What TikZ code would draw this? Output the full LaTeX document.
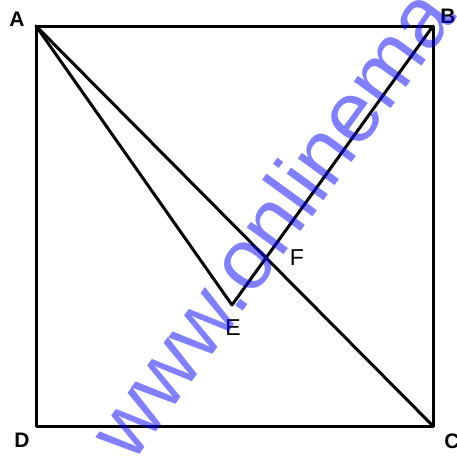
\documentclass[tikz,border=0pt]{standalone}
\usepackage{fontspec}
\setmainfont{Liberation Sans}
\begin{document}
\begin{tikzpicture}[x=1pt,y=-1pt,
  edge/.style={line width=3pt,line join=round,line cap=round},
  vlab/.style={font=\fontsize{21}{21}\selectfont\bfseries,inner sep=0pt},
  plab/.style={font=\fontsize{23}{23}\selectfont,inner sep=0pt},
  wmark/.style={font=\fontsize{86}{86}\selectfont,text=blue,text opacity=0.5,inner sep=0pt,rotate=54,anchor=base west}]
\useasboundingbox (0,0) rectangle (457,455);
\coordinate (A) at (36,26);
\coordinate (B) at (433,26);
\coordinate (C) at (433,426);
\coordinate (D) at (36,426);
\coordinate (E) at (232,305);
\coordinate (F) at (intersection of A--C and E--B);
\draw[edge] (A) -- (B) -- (C) -- (D) -- cycle;
\draw[edge] (A) -- (C);
\draw[edge] (A) -- (E) -- (B);
\node[vlab] (lA) at (17,19) {A};
\node[vlab] (lB) at (448,16) {B};
\node[vlab] (lC) at (452,441) {C};
\node[vlab] (lD) at (22,440) {D};
\node[plab] (lE) at (233,328) {E};
\node[plab] (lF) at (297,258) {F};
\node[wmark] (wm) at (132,465) {www.onlinema};
\end{tikzpicture}
\end{document}
